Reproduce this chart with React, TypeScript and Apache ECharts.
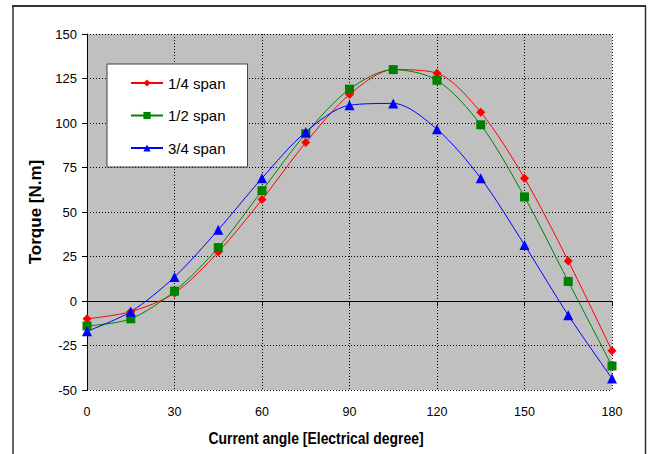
import React, { useEffect, useRef } from "react";
import * as echarts from "echarts";

const angles = [0, 15, 30, 45, 60, 75, 90, 105, 120, 135, 150, 165, 180];
const quarterSpan = [-10, -6, 4.5, 27.5, 57, 89, 116, 130, 128, 106, 69, 22.5, -28];
const halfSpan = [-14, -10, 5.5, 30, 62, 94, 119, 130, 124, 99, 58.5, 11, -36.5];
const threeQuarterSpan = [-17, -6, 13.5, 40, 69, 95, 110, 111, 96.5, 69, 31.5, -8, -43.5];
const seriesNames = ["1/4 span", "1/2 span", "3/4 span"];
const xTitle = "Current angle [Electrical degree]";
const yTitle = "Torque [N.m]";

const FONT = "'Liberation Sans', Arial, sans-serif";

export default function App() {
  const ref = useRef<HTMLDivElement>(null);
  useEffect(() => {
    if (!ref.current) return;
    const chart = echarts.init(ref.current, null, { renderer: "svg" });
    const mk = (name: string, vals: number[], color: string, symbol: string, size: number) => ({
      name,
      type: "line",
      data: angles.map((a, i) => [a, vals[i]]),
      smooth: 0.3,
      symbol,
      symbolSize: size,
      lineStyle: { color, width: 1 },
      itemStyle: { color },
    });
    chart.setOption({
      animation: false,
      textStyle: { fontFamily: FONT },
      grid: {
        left: 87,
        right: 39,
        top: 34,
        bottom: 64,
        show: true,
        backgroundColor: "#C0C0C0",
        borderWidth: 0,
      },
      legend: {
        orient: "vertical",
        left: 107,
        top: 64,
        backgroundColor: "#ffffff",
        borderColor: "#444444",
        borderWidth: 1,
        borderRadius: 0,
        padding: [10, 22, 10, 23],
        itemWidth: 32,
        itemHeight: 9,
        itemGap: 14.5,
        textStyle: { fontFamily: FONT, fontSize: 15, lineHeight: 18, color: "#000" },
        data: seriesNames,
      },
      xAxis: {
        type: "value",
        min: 0,
        max: 180,
        interval: 30,
        axisLine: { show: true, lineStyle: { color: "#000", width: 1 } },
        axisTick: { show: true, length: 5, lineStyle: { color: "#000" } },
        axisLabel: { fontFamily: FONT, fontSize: 12.5, color: "#000", margin: 15 },
        splitLine: { show: true, lineStyle: { color: "#000", type: [1, 2], width: 1 } },
      },
      yAxis: {
        type: "value",
        min: -50,
        max: 150,
        interval: 25,
        name: yTitle,
        nameLocation: "middle",
        nameGap: 39,
        nameTextStyle: { fontFamily: FONT, fontSize: 17, fontWeight: "bold", color: "#000" },
        axisLine: { show: true, lineStyle: { color: "#000", width: 1 } },
        axisTick: { show: true, length: 5, lineStyle: { color: "#000" } },
        axisLabel: { fontFamily: FONT, fontSize: 13, color: "#000", margin: 10 },
        splitLine: { show: true, lineStyle: { color: "#000", type: [1, 2], width: 1 } },
      },
      graphic: [
        { type: "line", shape: { x1: 13, y1: 6, x2: 13, y2: 460 }, style: { stroke: "#333", lineWidth: 1.5 } },
        { type: "line", shape: { x1: 12, y1: 6, x2: 646, y2: 6 }, style: { stroke: "#333", lineWidth: 2 } },
        { type: "line", shape: { x1: 645.5, y1: 6, x2: 645.5, y2: 460 }, style: { stroke: "#333", lineWidth: 1.5 } },
        {
          type: "text",
          x: 316,
          y: 438,
          scaleX: 0.82,
          style: {
            text: xTitle,
            font: `bold 17px ${FONT}`,
            fill: "#000",
            align: "center",
            verticalAlign: "middle",
          },
        },
      ],
      series: [
        mk(seriesNames[0], quarterSpan, "#FF0000", "diamond", 9),
        mk(seriesNames[1], halfSpan, "#008000", "rect", 9),
        mk(seriesNames[2], threeQuarterSpan, "#0000FF", "triangle", 10),
      ],
    });
    return () => chart.dispose();
  }, []);
  return <div ref={ref} style={{ width: 651, height: 454, position: "absolute", left: 0, top: 0 }} />;
}
